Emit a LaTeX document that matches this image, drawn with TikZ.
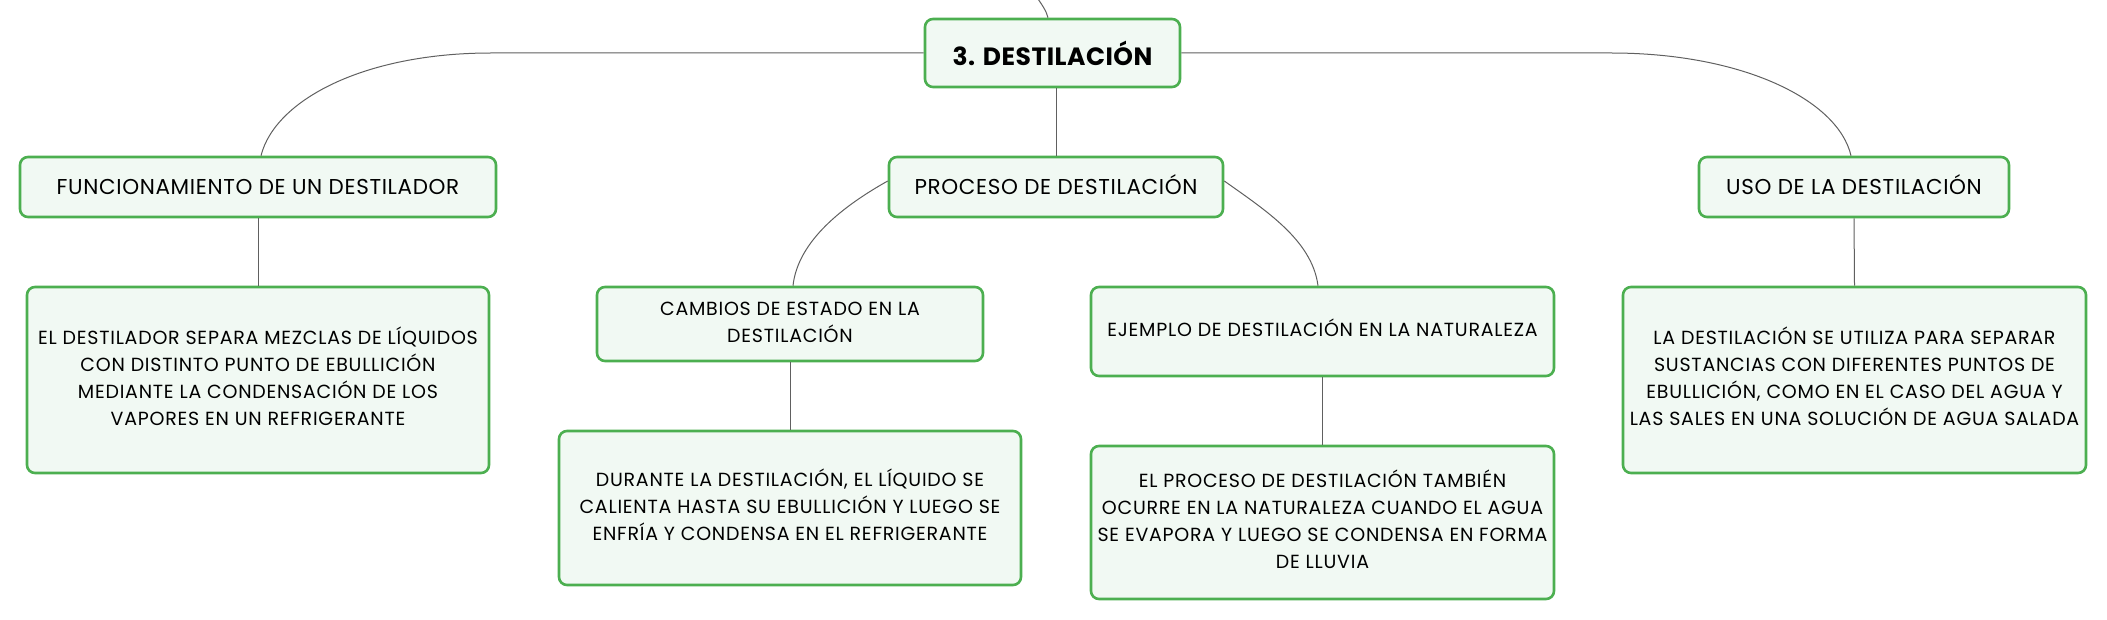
\documentclass[tikz,border=0pt]{standalone}
\usepackage{fontspec}
\setmainfont{Poppins}
\newfontfamily\rootfont[LetterSpace=2]{Poppins}
\newfontfamily\lvlfont[LetterSpace=3]{Poppins}
\newfontfamily\detfont[LetterSpace=4]{Poppins}
\newcommand\mlines[1]{\begin{tabular}{@{}c@{}}#1\end{tabular}}
\definecolor{boxgreen}{HTML}{4CAF50}
\definecolor{boxfill}{HTML}{F1F9F3}
\definecolor{linkgray}{HTML}{606060}
\tikzset{
  mapbox/.style={draw=boxgreen, line width=2.6pt, fill=boxfill, rounded corners=8pt,
    align=center, inner sep=0pt, text=black},
  roottext/.style={font=\rootfont\fontsize{25}{30}\selectfont\bfseries},
  lvltext/.style={font=\lvlfont\fontsize{21.5}{40}\selectfont},
  dettext/.style={font=\detfont\fontsize{19}{27}\selectfont},
  link/.style={draw=linkgray, line width=1pt}
}
\begin{document}
\begin{tikzpicture}[x=1pt,y=-1pt]
\useasboundingbox (0,0) rectangle (2107,620);
\clip (0,0) rectangle (2107,620);
% nodes
\node[mapbox, roottext, minimum width=255pt, minimum height=68pt] (root) at (1052.5,53) {3. DESTILACIÓN};
\node[mapbox, lvltext, minimum width=476pt, minimum height=60pt] (func) at (258,187) {\mlines{FUNCIONAMIENTO DE UN DESTILADOR}};
\node[mapbox, lvltext, minimum width=334pt, minimum height=60pt] (proc) at (1056,187) {\mlines{PROCESO DE DESTILACIÓN}};
\node[mapbox, lvltext, minimum width=310pt, minimum height=60pt] (uso) at (1854,187) {\mlines{USO DE LA DESTILACIÓN}};
\node[mapbox, dettext, minimum width=462pt, minimum height=186pt] (d1) at (258,380) {\mlines{EL DESTILADOR SEPARA MEZCLAS DE LÍQUIDOS\\CON DISTINTO PUNTO DE EBULLICIÓN\\MEDIANTE LA CONDENSACIÓN DE LOS\\VAPORES EN UN REFRIGERANTE}};
\node[mapbox, dettext, minimum width=386pt, minimum height=74pt] (cambios) at (790,324) {\mlines{CAMBIOS DE ESTADO EN LA\\DESTILACIÓN}};
\node[mapbox, dettext, minimum width=463pt, minimum height=89pt] (ejemplo) at (1322.5,331.5) {\mlines{EJEMPLO DE DESTILACIÓN EN LA NATURALEZA}};
\node[mapbox, dettext, minimum width=462pt, minimum height=154pt] (durante) at (790,508) {\mlines{DURANTE LA DESTILACIÓN, EL LÍQUIDO SE\\CALIENTA HASTA SU EBULLICIÓN Y LUEGO SE\\ENFRÍA Y CONDENSA EN EL REFRIGERANTE}};
\node[mapbox, dettext, minimum width=463pt, minimum height=153pt] (elproceso) at (1322.5,522.5) {\mlines{EL PROCESO DE DESTILACIÓN TAMBIÉN\\OCURRE EN LA NATURALEZA CUANDO EL AGUA\\SE EVAPORA Y LUEGO SE CONDENSA EN FORMA\\DE LLUVIA}};
\node[mapbox, dettext, minimum width=463pt, minimum height=186pt] (ladest) at (1854.5,380) {\mlines{LA DESTILACIÓN SE UTILIZA PARA SEPARAR\\SUSTANCIAS CON DIFERENTES PUNTOS DE\\EBULLICIÓN, COMO EN EL CASO DEL AGUA Y\\LAS SALES EN UNA SOLUCIÓN DE AGUA SALADA}};
% connectors
\coordinate (parent) at (1010,-40);
\draw[link] (parent) .. controls (1030,-10) and (1045,5) .. ([xshift=-4.5pt]root.north);
\draw[link] (root.west) -- (491,53) .. controls (364,53) and (275,100) .. ([xshift=3pt]func.north);
\draw[link] (root.east) -- (1611,53) .. controls (1743,53) and (1838,100) .. ([xshift=-3pt]uso.north);
\draw[link] (proc.north |- root.south) -- (proc.north);
\draw[link] ([yshift=6pt]proc.west) .. controls (845,205) and (798,240) .. ([xshift=3pt]cambios.north);
\draw[link] ([yshift=6pt]proc.east) .. controls (1265,210) and (1312,240) .. ([xshift=-4.5pt]ejemplo.north);
\draw[link] (func.south) -- (d1.north);
\draw[link] (cambios.south) -- (durante.north);
\draw[link] (ejemplo.south) -- (elproceso.north);
\draw[link] (uso.south) -- (ladest.north);
\end{tikzpicture}
\end{document}
